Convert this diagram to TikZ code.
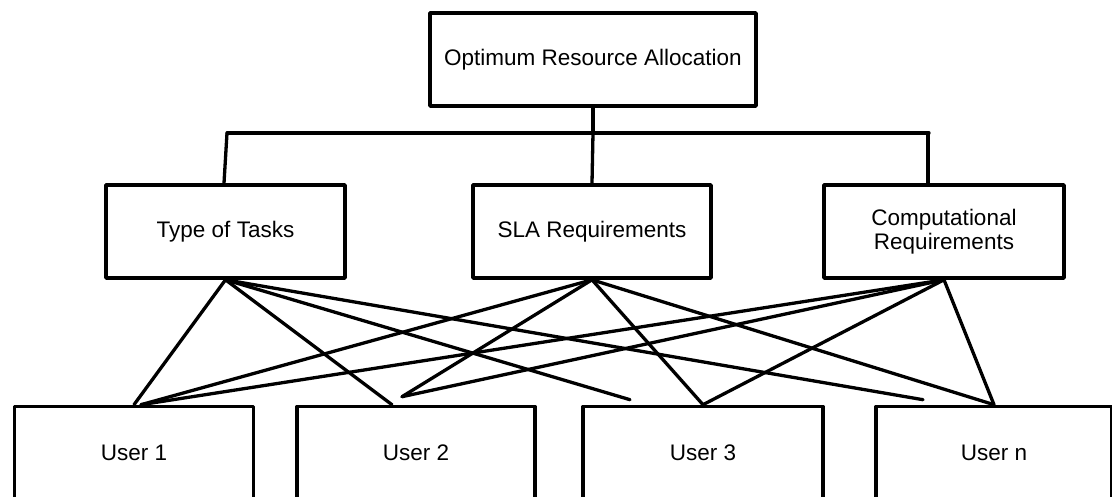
\documentclass[tikz,border=0pt]{standalone}
\usepackage{fontspec}
\setmainfont{Liberation Sans}
\usetikzlibrary{positioning}
\begin{document}
\begin{tikzpicture}[x=1pt,y=-1pt,line cap=round,line join=round]
\useasboundingbox (0,0) rectangle (1112,497);
\clip (0,0) rectangle (1112,497);
\path[fill=white] (0,0) rectangle (1112,497);
\tikzset{box/.style={draw=black,fill=white,line width=3.6pt,minimum height=93pt,align=center,inner sep=0pt,font=\fontsize{22.5}{23.5}\selectfont},link/.style={draw=black,line width=3.3pt}}
\node[box,minimum width=326pt] (top) at (593,59.5) {Optimum Resource Allocation};
\node[box,minimum width=239pt] (tasks) at (225.5,231.5) {Type of Tasks};
\node[box,minimum width=238pt] (sla) at (592,231.5) {SLA Requirements};
\node[box,minimum width=240pt] (comp) at (944,231.5) {Computational\\Requirements};
\node[box,minimum width=239pt] (u1) at (134,453) {User 1};
\node[box,minimum width=238pt] (u2) at (416,453) {User 2};
\node[box,minimum width=240pt] (u3) at (703,453) {User 3};
\node[box,minimum width=236pt] (un) at (994,453) {User n};
\coordinate (busL) at (227,133); \coordinate (busR) at (929,133);
\draw[link] (top.south) -- (top.south |- busL); \draw[link] (busL) -- (busR);
\draw[link] (busL) -- ([xshift=-1.5pt]tasks.north); \draw[link] (top.south |- busL) -- (sla.north); \draw[link] ([xshift=-1pt]busR) -- ([xshift=-1pt]busR |- comp.north);
\coordinate (u2tip) at ([xshift=-14pt,yshift=8pt]u2.north);
\draw[link] (tasks.south) -- (u1.north); \draw[link] (tasks.south) -- ([xshift=-24pt]u2.north);
\draw[link] (tasks.south) -- ([xshift=-73pt,yshift=5pt]u3.north); \draw[link] (tasks.south) -- ([xshift=-71pt,yshift=5pt]un.north);
\draw[link] (sla.south) -- ([xshift=7pt]u1.north); \draw[link] (sla.south) -- (u2tip); \draw[link] (sla.south) -- (u3.north); \draw[link] (sla.south) -- (un.north);
\draw[link] (comp.south) -- ([xshift=7pt]u1.north); \draw[link] (comp.south) -- (u2tip); \draw[link] (comp.south) -- (u3.north); \draw[link] (comp.south) -- (un.north);
\end{tikzpicture}
\end{document}
